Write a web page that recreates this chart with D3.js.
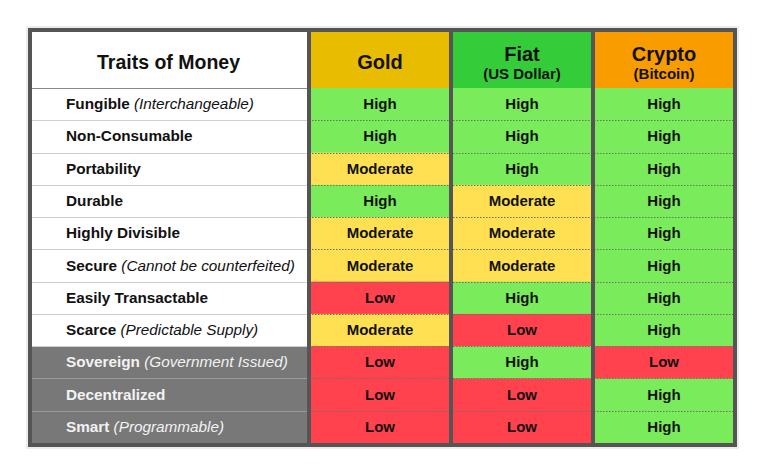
<!DOCTYPE html>
<html>
<head>
<meta charset="utf-8">
<script src="https://cdn.jsdelivr.net/npm/d3@7"></script>
<style>
  body { margin: 0; background: #fff; }
  svg text { font-family: "Liberation Sans", Arial, Helvetica, sans-serif; }
</style>
</head>
<body>
<div id="chart"></div>
<script>
// data
var traits = ["Fungible", "Non-Consumable", "Portability", "Durable", "Highly Divisible",
    "Secure", "Easily Transactable", "Scarce", "Sovereign", "Decentralized", "Smart"];
var traitNotes = ["(Interchangeable)", "", "", "", "", "(Cannot be counterfeited)", "",
    "(Predictable Supply)", "(Government Issued)", "", "(Programmable)"];
var greyTraits = ["Sovereign", "Decentralized", "Smart"];

var columns = ["Gold", "Fiat", "Crypto"];
var columnNotes = ["", "(US Dollar)", "(Bitcoin)"];

var goldValues = ["High", "High", "Moderate", "High", "Moderate", "Moderate", "Low", "Moderate", "Low", "Low", "Low"];
var fiatValues = ["High", "High", "High", "Moderate", "Moderate", "Moderate", "High", "Low", "High", "Low", "Low"];
var cryptoValues = ["High", "High", "High", "High", "High", "High", "High", "High", "Low", "High", "High"];

var levels = ["High", "Moderate", "Low"];

var width = 768, height = 465;
var frameLeft = 28, frameTop = 28, frameRight = 737, frameBottom = 447; // outer frame edges
var headerBottom = 88;
var labelRight = 309;
var border = 4;

var svg = d3.select("#chart").append("svg")
    .attr("width", width)
    .attr("height", height);

// scales
var x = d3.scaleBand().domain(columns).range([labelRight, frameRight - 2]).padding(0);
var y = d3.scaleBand().domain(traits).range([headerBottom, frameBottom - 4]).padding(0);

var levelColor = d3.scaleOrdinal().domain(levels).range(["#7aeb5a", "#ffe052", "#ff424e"]);
var headColor = d3.scaleOrdinal().domain(columns).range(["#e8bc00", "#35cc3a", "#f99c00"]);

var valueTable = { Gold: goldValues, Fiat: fiatValues, Crypto: cryptoValues };

// faint shadow round the frame
svg.append("rect")
    .attr("x", frameLeft - 2).attr("y", frameTop - 2)
    .attr("width", frameRight - frameLeft + 4).attr("height", frameBottom - frameTop + 4)
    .attr("fill", "#ececec");

// label column background
svg.append("rect")
    .attr("x", frameLeft).attr("y", frameTop)
    .attr("width", labelRight - frameLeft).attr("height", frameBottom - frameTop)
    .attr("fill", "#fff");

// grey rows
svg.selectAll("rect.greyrow")
    .data(greyTraits)
    .enter().append("rect")
    .attr("class", "greyrow")
    .attr("x", frameLeft).attr("y", function (d) { return y(d); })
    .attr("width", labelRight - frameLeft).attr("height", y.bandwidth() + 1)
    .attr("fill", "#787878");

// header cells
svg.selectAll("rect.head")
    .data(columns)
    .enter().append("rect")
    .attr("class", "head")
    .attr("x", function (d) { return x(d); })
    .attr("y", frameTop)
    .attr("width", x.bandwidth())
    .attr("height", headerBottom - frameTop)
    .attr("fill", function (d) { return headColor(d); });

// value cells
var cells = [];
columns.forEach(function (c) {
    traits.forEach(function (t, i) {
        cells.push({ col: c, trait: t, value: valueTable[c][i], row: i });
    });
});

svg.selectAll("rect.cell")
    .data(cells)
    .enter().append("rect")
    .attr("class", "cell")
    .attr("x", function (d) { return x(d.col); })
    .attr("y", function (d) { return y(d.trait); })
    .attr("width", x.bandwidth())
    .attr("height", y.bandwidth() + 1)
    .attr("fill", function (d) { return levelColor(d.value); });

// row separators: solid in the label column, dotted in the coloured cells
traits.forEach(function (t, i) {
    var yy = Math.round(y(t)) + 0.5;
    var isGrey = greyTraits.indexOf(t) >= 0;
    var prevGrey = i > 0 && greyTraits.indexOf(traits[i - 1]) >= 0;
    svg.append("line")
        .attr("x1", frameLeft).attr("x2", labelRight)
        .attr("y1", yy).attr("y2", yy)
        .attr("stroke", i == 0 ? "#8a8a8a" : (isGrey && prevGrey ? "#9a9a9a" : "#cfcfcf"))
        .attr("stroke-width", 1);
    if (i > 0) {
        svg.append("line")
            .attr("x1", labelRight).attr("x2", frameRight)
            .attr("y1", yy).attr("y2", yy)
            .attr("stroke", "#6f6f6f")
            .attr("stroke-width", 1)
            .attr("stroke-dasharray", "1.5,1.5");
    }
});

// column dividers
columns.forEach(function (c) {
    svg.append("line")
        .attr("x1", x(c)).attr("x2", x(c))
        .attr("y1", frameTop).attr("y2", frameBottom)
        .attr("stroke", "#555")
        .attr("stroke-width", border);
});

// outer frame
svg.append("rect")
    .attr("x", frameLeft + border / 2).attr("y", frameTop + border / 2)
    .attr("width", frameRight - frameLeft - border).attr("height", frameBottom - frameTop - border)
    .attr("fill", "none")
    .attr("stroke", "#555")
    .attr("stroke-width", border);

// header text
svg.append("text")
    .attr("x", (frameLeft + labelRight) / 2)
    .attr("y", 69)
    .attr("text-anchor", "middle")
    .attr("font-size", "19.5px")
    .attr("font-weight", "bold")
    .attr("fill", "#111")
    .text("Traits of Money");

var headText = svg.selectAll("g.headtext")
    .data(columns)
    .enter().append("g")
    .attr("class", "headtext")
    .attr("transform", function (d) { return "translate(" + (x(d) + x.bandwidth() / 2) + ",0)"; });

headText.append("text")
    .attr("y", function (d, i) { return columnNotes[i] ? 61 : 69; })
    .attr("text-anchor", "middle")
    .attr("font-size", "20px")
    .attr("font-weight", "bold")
    .attr("fill", "#111")
    .text(function (d) { return d; });

headText.append("text")
    .attr("y", 79)
    .attr("text-anchor", "middle")
    .attr("font-size", "15px")
    .attr("font-weight", "bold")
    .attr("fill", "#111")
    .text(function (d, i) { return columnNotes[i]; });

// trait labels
var labels = svg.selectAll("text.trait")
    .data(traits)
    .enter().append("text")
    .attr("class", "trait")
    .attr("x", 66)
    .attr("y", function (d) { return y(d) + y.bandwidth() / 2 + 5; })
    .attr("font-size", "15.3px")
    .attr("fill", function (d) { return greyTraits.indexOf(d) >= 0 ? "#f2f2f2" : "#111"; });

labels.append("tspan")
    .attr("font-weight", "bold")
    .text(function (d) { return d; });

labels.append("tspan")
    .attr("font-style", "italic")
    .text(function (d, i) { return traitNotes[i] ? " " + traitNotes[i] : ""; });

// cell values
svg.selectAll("text.value")
    .data(cells)
    .enter().append("text")
    .attr("class", "value")
    .attr("x", function (d) { return x(d.col) + x.bandwidth() / 2; })
    .attr("y", function (d) { return y(d.trait) + y.bandwidth() / 2 + 5; })
    .attr("text-anchor", "middle")
    .attr("font-size", "15px")
    .attr("font-weight", "bold")
    .attr("fill", "#111")
    .text(function (d) { return d.value; });
</script>
</body>
</html>
